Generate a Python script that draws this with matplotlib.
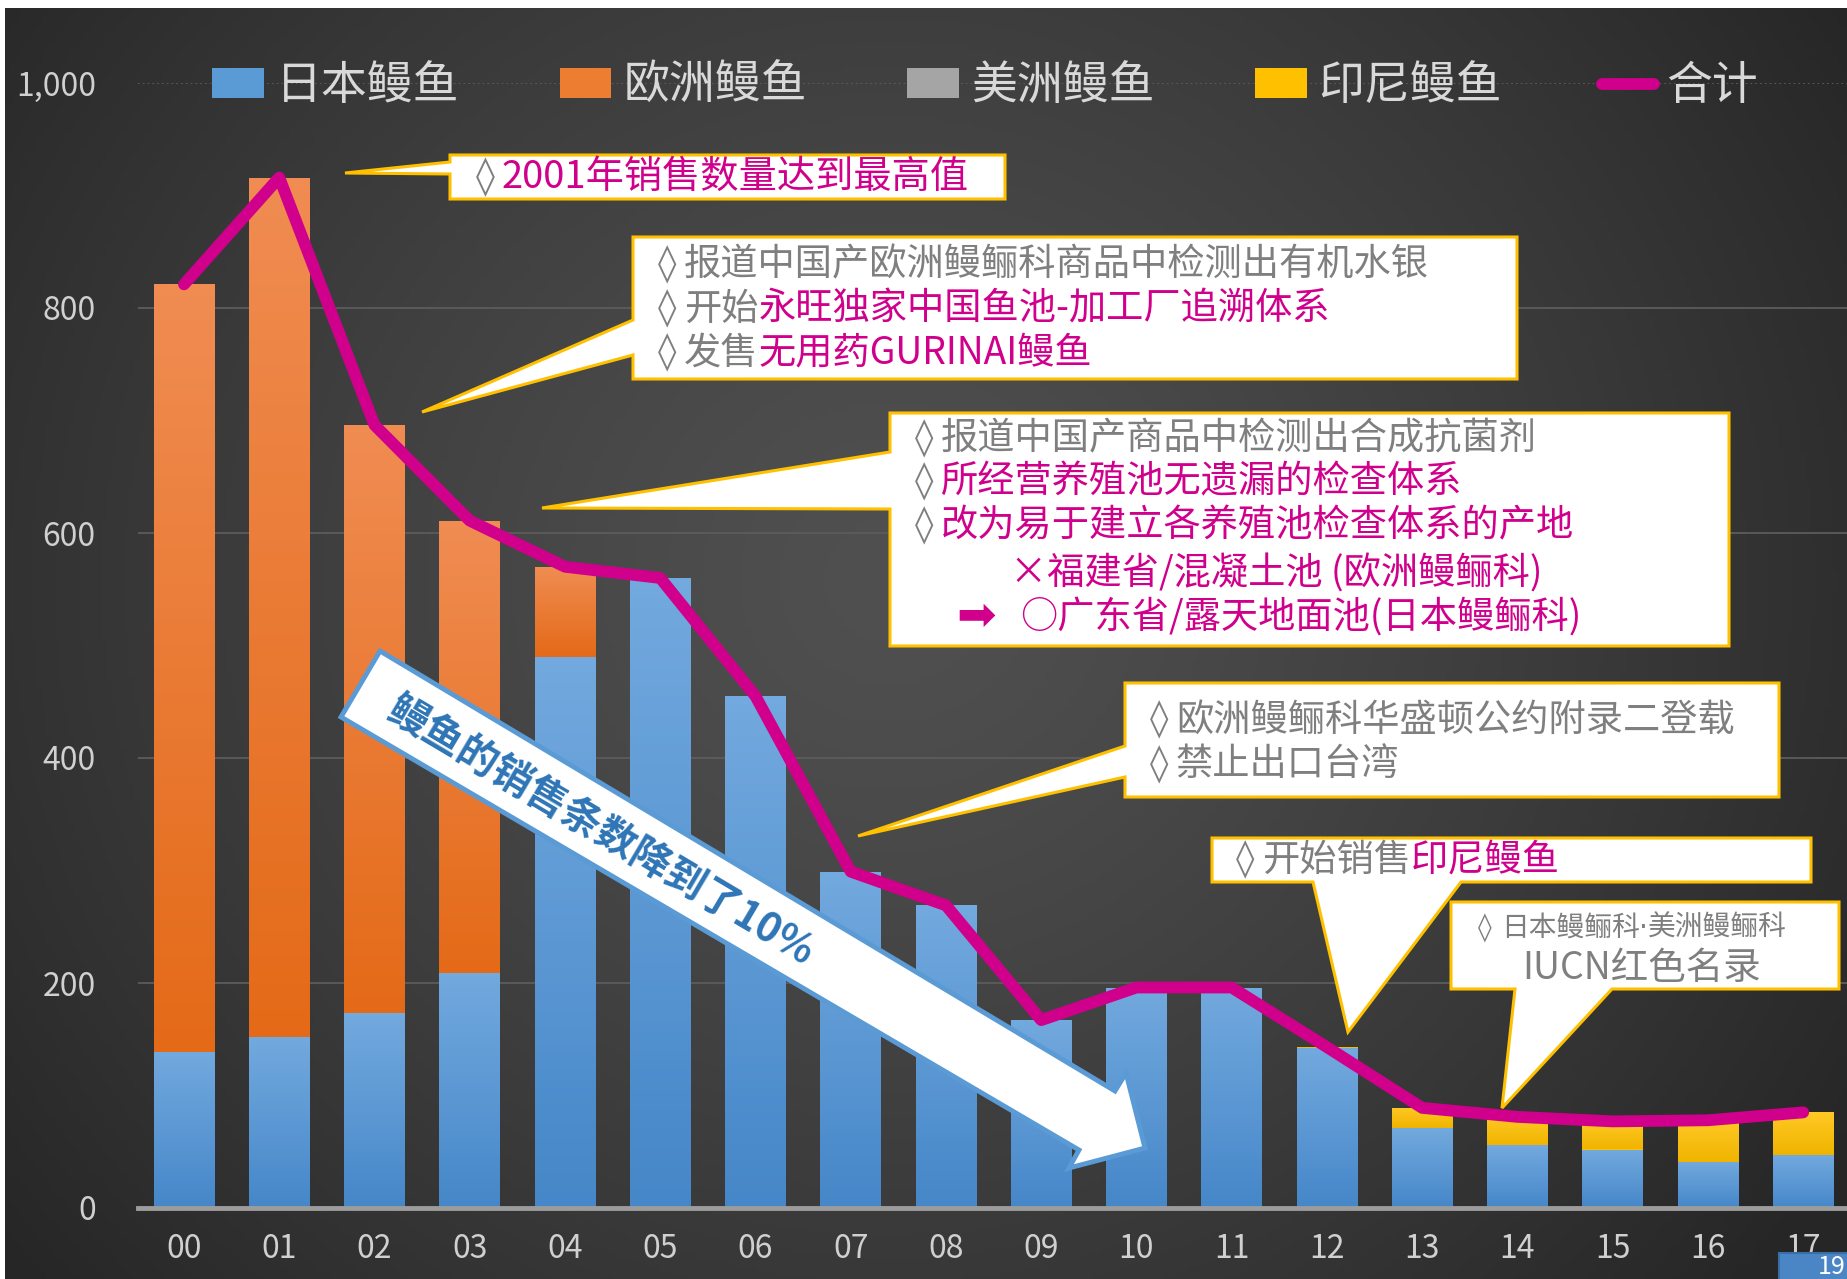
import numpy as np
import matplotlib
matplotlib.use('Agg')
import matplotlib.pyplot as plt
from matplotlib import transforms
from matplotlib.patches import Polygon, Rectangle
from matplotlib.colors import LinearSegmentedColormap
from matplotlib.ticker import FuncFormatter

plt.rcParams['font.family'] = ['Noto Sans CJK SC', 'DejaVu Sans']

# ---- 数据（从图上读取，单位：万条）----
years = ['00', '01', '02', '03', '04', '05', '06', '07', '08',
         '09', '10', '11', '12', '13', '14', '15', '16', '17']
japan = [139, 152, 173, 209, 490, 560, 455, 299, 269, 167, 196, 196, 142, 71, 56, 52, 41, 47]
europe = [682, 764, 523, 402, 80, 0, 0, 0, 0, 0, 0, 0, 0, 0, 0, 0, 0, 0]
america = [0, 0, 0, 0, 0, 0, 0, 0, 0, 0, 0, 0, 0, 0, 0, 0, 0, 0]
indonesia = [0, 0, 0, 0, 0, 0, 0, 0, 0, 0, 0, 0, 1, 18, 25, 25, 37, 38]
total = [821, 916, 696, 611, 570, 560, 455, 299, 269, 167, 196, 196, 143, 89, 81, 77, 78, 85]
series_names = ['日本鳗鱼', '欧洲鳗鱼', '美洲鳗鱼', '印尼鳗鱼', '合计']

GRAY = '#7f7f7f'
MAG = '#d0008c'
GOLD = '#ffc000'
TICK = '#d0d0d0'
DV = ['DejaVu Sans']

W, H = 1847, 1279
fig = plt.figure(figsize=(W / 100, H / 100), dpi=100, facecolor='white')
# 像素坐标（左上为原点）
px = transforms.Affine2D().scale(1 / W, -1 / H).translate(0, 1) + fig.transFigure

# 深色背景（径向渐变）
bg = fig.add_axes([5 / W, 0, 1 - 5 / W, 1 - 8 / H], zorder=-5)
yy, xx = np.mgrid[0:1:300j, 0:1:400j]
r = np.sqrt(((xx - 0.48) / 0.62) ** 2 + ((yy - 0.45) / 0.85) ** 2)
shade = (0x50 - (0x50 - 0x26) * np.clip(r, 0, 1) ** 1.3) / 255
bg.imshow(np.dstack([shade] * 3), extent=(0, 1, 1, 0), aspect='auto')
bg.axis('off')

# 主图
ax = fig.add_axes([137.5 / W, 1 - 1208 / H, 1 - 137.5 / W, (1208 - 83) / H])
ax.set_facecolor('none')

x = np.arange(len(years))
bw = 0.635
bottom2 = np.array(japan)
bottom3 = bottom2 + np.array(europe)
bottom4 = bottom3 + np.array(america)
b1 = ax.bar(x, japan, bw, color='#5b9bd5', zorder=2)
b2 = ax.bar(x, europe, bw, bottom=bottom2, color='#ed7d31', zorder=2)
b3 = ax.bar(x, america, bw, bottom=bottom3, color='#a5a5a5', zorder=2)
b4 = ax.bar(x, indonesia, bw, bottom=bottom4, color='#ffc000', zorder=2)
ln, = ax.plot(x, total, color=MAG, lw=8.5, solid_capstyle='round',
              solid_joinstyle='round', zorder=4)


def grad_bars(bars, top, bottom):
    cmap = LinearSegmentedColormap.from_list('g', [bottom, top])
    for p in bars:
        if p.get_height() <= 0:
            continue
        x0, y0, w, h = p.get_x(), p.get_y(), p.get_width(), p.get_height()
        im = ax.imshow(np.linspace(0, 1, 64).reshape(-1, 1), cmap=cmap, origin='lower',
                       extent=(x0, x0 + w, y0, y0 + h), aspect='auto', zorder=2.1)
        im.set_clip_path(p)


grad_bars(b1, '#72a9de', '#4687c9')
grad_bars(b2, '#f08c52', '#e46a18')
grad_bars(b4, '#ffc825', '#f0b400')

ax.set_xlim(-0.488, 17.46)
ax.set_ylim(0, 1000)
ax.set_xticks(x, years)
ax.set_yticks(range(0, 1001, 200))
ax.yaxis.set_major_formatter(FuncFormatter(lambda v, p: f'{int(v):,}'))
ax.tick_params(length=0, colors=TICK, labelsize=23)
ax.tick_params(axis='y', pad=30)
ax.tick_params(axis='x', pad=18)
for s in ['top', 'right', 'left']:
    ax.spines[s].set_visible(False)
ax.spines['bottom'].set_color('#9c9c9c')
ax.spines['bottom'].set_linewidth(3.5)
ax.grid(axis='y', color='#5c5c5c', lw=1.3)
ax.set_axisbelow(True)
ax.get_ygridlines()[-1].set_linestyle(':')

# 图例
ax.legend([b1, b2, b3, b4, ln], series_names, loc='center left',
          bbox_to_anchor=(212, 86), bbox_transform=px, ncol=5, frameon=False,
          fontsize=33, handlelength=1.13, handleheight=0.61, handletextpad=0.26,
          columnspacing=2.19, borderpad=0, borderaxespad=0, labelcolor='#d9d9d9')


# ---- 标注框 ----
def box(pts):
    fig.add_artist(Polygon(pts, closed=True, transform=px, facecolor='white',
                           edgecolor=GOLD, lw=2.2, joinstyle='miter', zorder=10))


def rich(x0, y0, parts, size, family=None):
    rd = fig.canvas.get_renderer()
    for part in parts:
        s, c = part[0], part[1]
        fam = part[2] if len(part) > 2 else family
        kw = {'family': fam} if fam else {}
        t = fig.text(x0, y0, s, transform=px, color=c, fontsize=size,
                     ha='left', va='center', zorder=11, **kw)
        x0 = t.get_window_extent(rd).x1


def bullet(xd, y0, parts, size=26.8):
    fig.text(xd - 1, y0, '◊', transform=px, color=GRAY, fontsize=size,
             ha='left', va='center', zorder=11, family=DV, fontweight='normal')
    rich(xd + 25, y0, parts, size)


# 2001年
box([(450, 155), (1005, 155), (1005, 199), (450, 199), (450, 174), (345, 173), (450, 162)])
bullet(477, 177, [('2001年销售数量达到最高值', MAG)], size=27.5)

# 有机水银
box([(633, 237), (1517, 237), (1517, 379), (633, 379), (633, 355), (422, 412), (633, 320)])
bullet(659, 265, [('报道中国产欧洲鳗鲡科商品中检测出有机水银', GRAY)])
bullet(659, 309, [('开始', GRAY), ('永旺独家中国鱼池-加工厂追溯体系', MAG)])
bullet(659, 353, [('发售', GRAY), ('无用药GURINAI鳗鱼', MAG)])

# 合成抗菌剂
box([(890, 413), (1729, 413), (1729, 646), (890, 646), (890, 509), (542, 508), (890, 452)])
bullet(916, 439, [('报道中国产商品中检测出合成抗菌剂', GRAY)])
bullet(916, 482, [('所经营养殖池无遗漏的检查体系', MAG)])
bullet(916, 526, [('改为易于建立各养殖池检查体系的产地', MAG)])
rich(1010, 574, [('×福建省/混凝土池 (欧洲鳗鲡科)', MAG)], 26.8)
fig.text(956, 617, '➡', transform=px, color=MAG, fontsize=34, ha='left', va='center',
         zorder=11, family=DV, fontweight='normal')
rich(1020, 617, [('○广东省/露天地面池(日本鳗鲡科)', MAG)], 26.8)

# 华盛顿公约
box([(1125, 683), (1779, 683), (1779, 797), (1125, 797), (1125, 777), (858, 836), (1125, 746)])
bullet(1151, 720, [('欧洲鳗鲡科华盛顿公约附录二登载', GRAY)])
bullet(1151, 765, [('禁止出口台湾', GRAY)])

# 印尼鳗鱼
box([(1212, 838), (1811, 838), (1811, 882), (1461, 882), (1348, 1032), (1313, 882), (1212, 882)])
bullet(1237, 860, [('开始销售', GRAY), ('印尼鳗鱼', MAG)])

# IUCN
box([(1451, 902), (1839, 902), (1839, 989), (1612, 989), (1502, 1108), (1515, 989), (1451, 989)])
rich(1478, 928, [('◊ ', GRAY, DV), ('日本鳗鲡科', GRAY), ('·', GRAY, DV),
                 ('美洲鳗鲡科', GRAY)], 20)
fig.text(1642, 968, 'IUCN红色名录', transform=px, color=GRAY, fontsize=27,
         ha='center', va='center', zorder=11)

# 下降箭头
arrow = [(380, 651), (1115, 1091), (1126, 1073), (1145, 1148), (1069, 1168),
         (1079, 1150), (341, 717)]
fig.add_artist(Polygon(arrow, closed=True, transform=px, facecolor='white',
                       edgecolor='#5b9bd5', lw=3.5, joinstyle='miter', zorder=9))
fig.text(600, 831, '鳗鱼的销售条数降到了10%', transform=px, color='#2e75b6',
         fontsize=29, fontweight='bold', rotation=-30.65, rotation_mode='anchor',
         ha='center', va='center', zorder=11)

# 页码框
fig.add_artist(Rectangle((1779, 1253), 80, 30, transform=px, facecolor='#4a86c6',
                         edgecolor='#3a6ea5', lw=1.5, zorder=10))
fig.text(1818, 1280, '19', transform=px, color='white', fontsize=18,
         ha='left', va='bottom', zorder=11)

fig.savefig('out.png', dpi=100, facecolor='white')
